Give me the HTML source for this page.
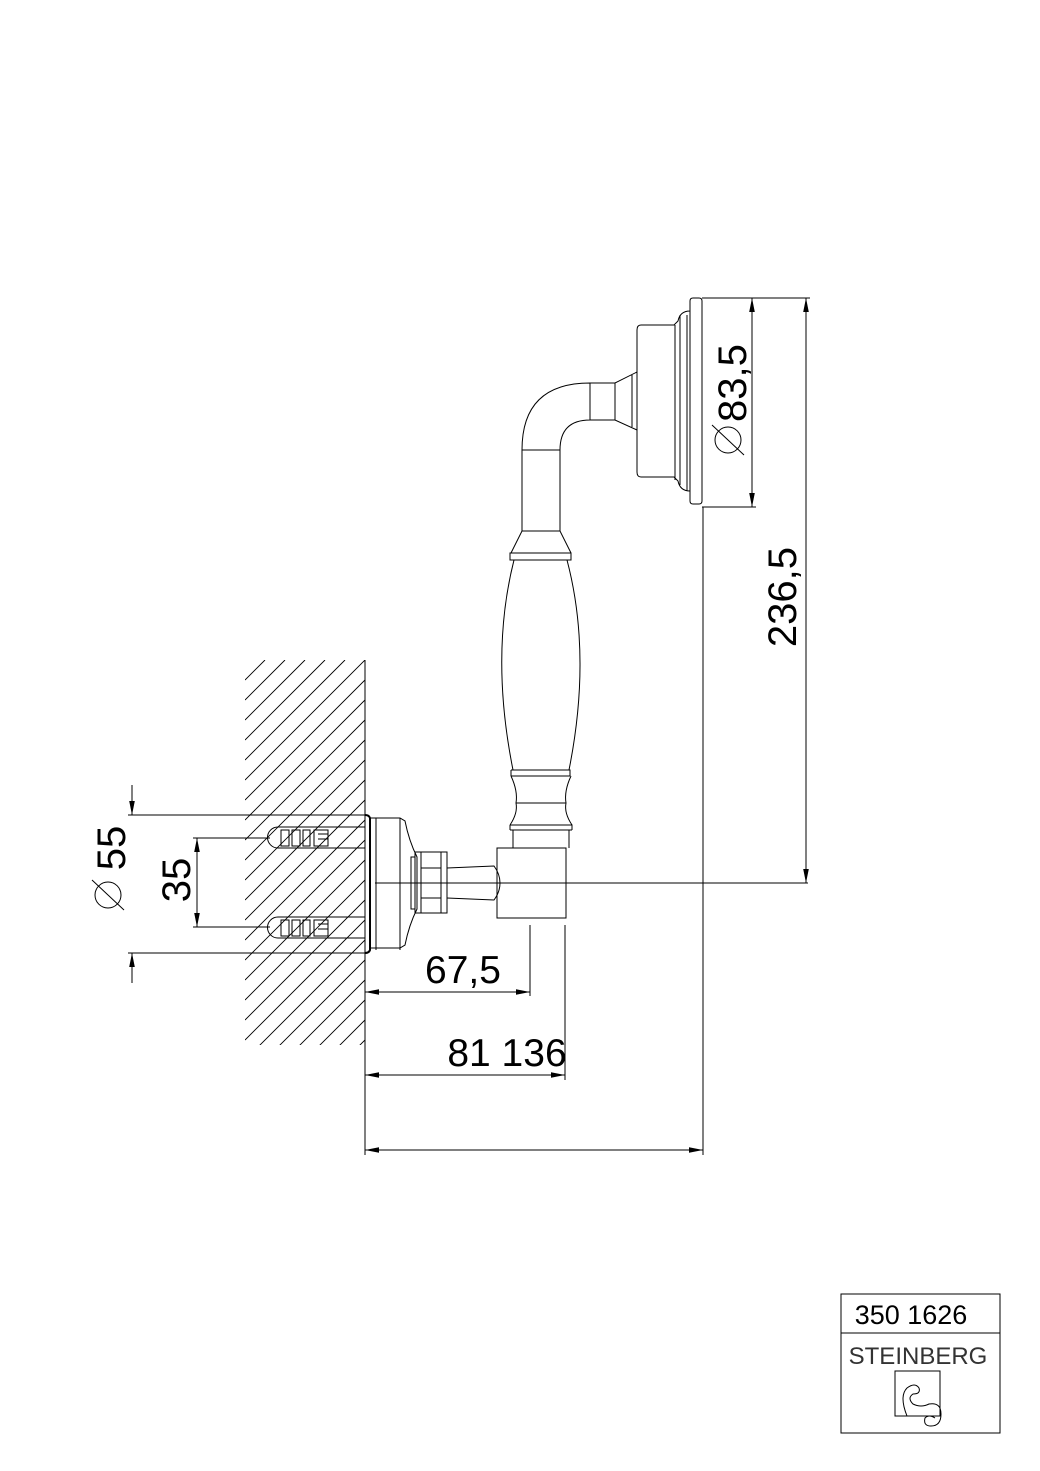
<!DOCTYPE html>
<html><head><meta charset="utf-8"><style>body{margin:0;background:#fff}svg{display:block}</style></head><body>
<svg width="1040" height="1471" viewBox="0 0 1040 1471" xmlns="http://www.w3.org/2000/svg">
<defs>
<clipPath id="wc"><rect x="245" y="660" width="120" height="385"/></clipPath>
<marker id="a" viewBox="0 0 10 10" refX="10" refY="5" markerWidth="14" markerHeight="14" markerUnits="userSpaceOnUse" orient="auto-start-reverse"><path d="M0,3 L10,5 L0,7 z" fill="#000"/></marker>
</defs>
<g fill="none" stroke="#000" stroke-width="1">
<line x1="365" y1="660" x2="365" y2="1045"/>
<g>
<path d="M278,827 h87 M278,848 h87 M278,827 a10.5,10.5 0 0 0 0,21"/>
<rect x="281" y="830" width="8" height="16"/><rect x="292" y="830" width="8" height="16"/><rect x="303" y="830" width="7" height="16"/>
<path d="M314,830 h14 v16 h-14 z M318,834 h10 v5 h-10"/>
<path d="M278,917 h87 M278,938 h87 M278,917 a10.5,10.5 0 0 0 0,21"/>
<rect x="281" y="920" width="8" height="16"/><rect x="292" y="920" width="8" height="16"/><rect x="303" y="920" width="7" height="16"/>
<path d="M314,920 h14 v16 h-14 z M318,924 h10 v5 h-10"/>
</g>
<path d="M365,815 q4,0 5,3 v132 q-1,3 -5,3" stroke-width="2"/>
<path d="M370,818 h30 l5,3 q4,20 12,36 v52 q-8,16 -12,36 l-5,3 h-30 M376,818 v132 M400,818 v132"/>
<path d="M411,857 h4 v52 h-4 z M415,852 h32 v61 h-32 z M421,852 v61 M441,852 v61 M421,868 h20 M421,898 h20"/>
<path d="M447,868 l47,-2 q6,8 6,17 q0,9 -6,17 l-47,-2"/>
<rect x="497" y="848" width="69" height="70"/>
<line x1="375" y1="883" x2="808" y2="883"/>
<path d="M513,848 v-18 M569,848 v-18 M510,830 h62 M510,825 h62 v5 M510,825 v5 M510,825 q8,-12 6,-22 q2,-12 -5,-27 M572,825 q-8,-12 -6,-22 q-2,-12 5,-27 M516,803 h50 M511,776 h59 M511,770 h59 v6 M511,770 v6"/>
<path d="M513,770 Q490,655 514,560 M569,770 Q592,655 567,560"/>
<path d="M510,560 h61 v-7 h-61 z M511,553 l11,-22 h38 l11,22 M522,531 h38"/>
<path d="M522,531 V450 Q522,383 590,383 H615 L637,372 M560,531 V450 Q560,420 590,420 H615 L637,430 M522,450 h38 M590,383 v37 M615,383 v37 M632,375 v52"/>
<path d="M637,330 q0,-5 4,-5 h33 l4,-4 q2,-10 12,-10 l0,-10 q0,-3 3,-3 h6 q3,0 3,3 v200 q0,3 -3,3 h-6 q-3,0 -3,-3 v-10 q-10,0 -12,-10 l-4,-4 h-33 q-4,0 -4,-5 z"/>
<path d="M675,325 v155 M680,315 v170 M690,311 v184 M687,315 v176"/>
<path d="M702,298 H810 M702,507 H756 M703,507 V1155"/>
<line x1="752" y1="298" x2="752" y2="507" marker-start="url(#a)" marker-end="url(#a)"/>
<line x1="806" y1="298" x2="806" y2="883" marker-start="url(#a)" marker-end="url(#a)"/>
<path d="M365,950 V1155 M530,925 V996 M565,925 V1080"/>
<line x1="365" y1="992" x2="530" y2="992" marker-start="url(#a)" marker-end="url(#a)"/>
<line x1="365" y1="1075" x2="565" y2="1075" marker-start="url(#a)" marker-end="url(#a)"/>
<line x1="365" y1="1150" x2="703" y2="1150" marker-start="url(#a)" marker-end="url(#a)"/>
<path d="M128,815 H365 M128,953 H365 M193,838 H270 M193,927 H270"/>
<line x1="132" y1="785" x2="132" y2="815" marker-end="url(#a)"/>
<line x1="132" y1="983" x2="132" y2="953" marker-end="url(#a)"/>
<line x1="197" y1="838" x2="197" y2="927" marker-start="url(#a)" marker-end="url(#a)"/>
<rect x="841" y="1294" width="159" height="139"/>
<line x1="841" y1="1333" x2="1000" y2="1333"/>
<rect x="895" y="1371" width="45" height="45"/>
<path d="M907,1416 q-8,-20 0,-28 q8,-6 12,0 q2,6 -6,6 q-6,4 0,10 q8,4 16,0 q12,-2 12,10 q0,12 -10,12 q-8,0 -6,-8 q4,-4 10,0"/>
<!-- diameter symbols -->
<circle cx="728" cy="440" r="13"/><line x1="712" y1="425" x2="744" y2="455"/>
<circle cx="108" cy="895" r="13"/><line x1="92" y1="880" x2="124" y2="910"/>
</g>
<g font-family="Liberation Sans, sans-serif" fill="#000">
<text x="746" y="383" font-size="40" transform="rotate(-90 746 383)" text-anchor="middle">83,5</text>
<text x="796" y="597" font-size="40" transform="rotate(-90 796 597)" text-anchor="middle">236,5</text>
<text x="125" y="848" font-size="40" transform="rotate(-90 125 848)" text-anchor="middle">55</text>
<text x="190" y="880" font-size="40" transform="rotate(-90 190 880)" text-anchor="middle">35</text>
<text x="463" y="983" font-size="39" text-anchor="middle">67,5</text>
<text x="507" y="1066" font-size="39" text-anchor="middle">81 136</text>
<text x="911" y="1324" font-size="27" text-anchor="middle">350 1626</text>
<text x="918" y="1364" font-size="24" text-anchor="middle" fill="#333">STEINBERG</text>
</g>
<g clip-path="url(#wc)" stroke="#000" stroke-width="0.9">
<path d="M245,680 L265,660 M245,700 L285,660 M245,720 L305,660 M245,740 L325,660 M245,760 L345,660 M245,780 L365,660 M245,800 L365,680 M245,820 L365,700 M245,840 L365,720 M245,860 L365,740 M245,880 L365,760 M245,900 L365,780 M245,920 L365,800 M245,940 L365,820 M245,960 L365,840 M245,980 L365,860 M245,1000 L365,880 M245,1020 L365,900 M245,1040 L365,920 M250,1055 L365,940 M270,1055 L365,960 M290,1055 L365,980 M310,1055 L365,1000 M330,1055 L365,1020 M350,1055 L365,1040"/>
</g>
</svg>
</body></html>
